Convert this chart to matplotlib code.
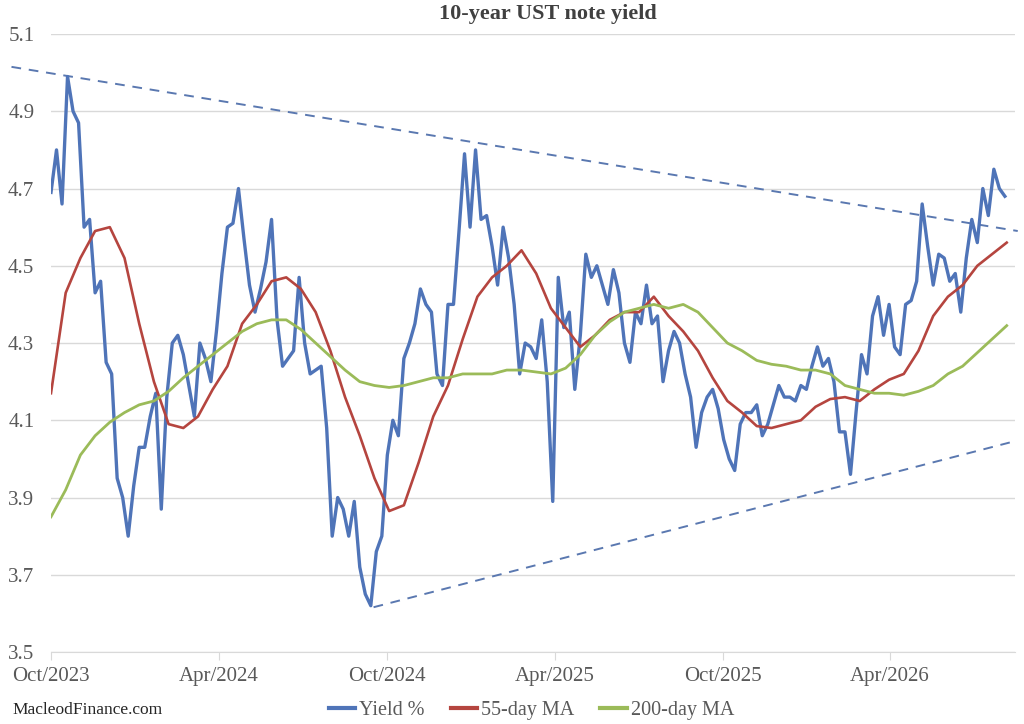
import numpy as np
import pandas as pd
import matplotlib
matplotlib.use("Agg")
import matplotlib.pyplot as plt
import matplotlib.dates as mdates

plt.rcParams['font.family'] = ['Liberation Serif', 'DejaVu Serif']

# yield sampled every 6 days from 1 Oct 2023
yield_pct = [
    4.69, 4.80, 4.66, 4.99, 4.90, 4.87, 4.60, 4.62, 4.43, 4.46,
    4.25, 4.22, 3.95, 3.90, 3.80, 3.93, 4.03, 4.03, 4.11, 4.17,
    3.87, 4.16, 4.30, 4.32, 4.27, 4.19, 4.11, 4.30, 4.26, 4.20,
    4.33, 4.48, 4.60, 4.61, 4.70, 4.57, 4.45, 4.38, 4.44, 4.51,
    4.62, 4.36, 4.24, 4.26, 4.28, 4.47, 4.30, 4.22, 4.23, 4.24,
    4.08, 3.80, 3.90, 3.87, 3.80, 3.89, 3.72, 3.65, 3.62, 3.76,
    3.80, 4.01, 4.10, 4.06, 4.26, 4.30, 4.35, 4.44, 4.40, 4.38,
    4.22, 4.19, 4.40, 4.40, 4.59, 4.79, 4.60, 4.80, 4.62, 4.63,
    4.55, 4.45, 4.60, 4.52, 4.40, 4.22, 4.30, 4.29, 4.26, 4.36,
    4.20, 3.89, 4.47, 4.34, 4.38, 4.18, 4.32, 4.53, 4.47, 4.50,
    4.45, 4.40, 4.49, 4.43, 4.30, 4.25, 4.38, 4.35, 4.45, 4.35,
    4.37, 4.20, 4.28, 4.33, 4.30, 4.22, 4.16, 4.03, 4.12, 4.16,
    4.18, 4.13, 4.05, 4.00, 3.97, 4.09, 4.12, 4.12, 4.14, 4.06,
    4.09, 4.14, 4.19, 4.16, 4.16, 4.15, 4.19, 4.18, 4.24, 4.29,
    4.24, 4.26, 4.20, 4.07, 4.07, 3.96, 4.12, 4.27, 4.22, 4.37,
    4.42, 4.32, 4.40, 4.29, 4.27, 4.40, 4.41, 4.46, 4.66, 4.55,
    4.45, 4.53, 4.52, 4.46, 4.48, 4.38, 4.52, 4.62, 4.56, 4.70,
    4.63, 4.75, 4.70, 4.68,
]

# moving averages sampled every 16 days
ma55 = [
    4.17, 4.43, 4.52, 4.59, 4.60, 4.52, 4.35, 4.20, 4.09, 4.08,
    4.11, 4.18, 4.24, 4.35, 4.40, 4.46, 4.47, 4.44, 4.38, 4.28,
    4.16, 4.06, 3.95, 3.865, 3.88, 3.99, 4.11, 4.19, 4.31, 4.42,
    4.47, 4.50, 4.54, 4.48, 4.39, 4.34, 4.29, 4.32, 4.36, 4.38,
    4.38, 4.42, 4.37, 4.33, 4.28, 4.21, 4.15, 4.12, 4.085, 4.08,
    4.09, 4.10, 4.135, 4.155, 4.16, 4.15, 4.18, 4.205, 4.22, 4.28,
    4.37, 4.42, 4.45, 4.50, 4.53, 4.56,
]
ma200 = [
    3.85, 3.92, 4.01, 4.06, 4.095, 4.12, 4.14, 4.15, 4.175, 4.21,
    4.24, 4.27, 4.30, 4.33, 4.35, 4.36, 4.36, 4.335, 4.30, 4.265,
    4.23, 4.20, 4.19, 4.185, 4.19, 4.20, 4.21, 4.21, 4.22, 4.22,
    4.22, 4.23, 4.23, 4.225, 4.22, 4.235, 4.27, 4.32, 4.355, 4.38,
    4.39, 4.40, 4.39, 4.40, 4.38, 4.34, 4.30, 4.28, 4.255, 4.245,
    4.24, 4.23, 4.23, 4.22, 4.19, 4.18, 4.17, 4.17, 4.165, 4.175,
    4.19, 4.22, 4.24, 4.275, 4.31, 4.345,
]

# hand-drawn trend lines (start/end date, value)
upper_trend_dates = ['2023-08-19', '2026-08-18']
upper_trend_vals = [5.015, 4.59]
lower_trend_dates = ['2024-09-16', '2026-08-15']
lower_trend_vals = [3.616, 4.046]

start = pd.Timestamp('2023-10-01')
yield_dates = pd.date_range(start, periods=len(yield_pct), freq='6D')
ma_dates = pd.date_range(start, periods=len(ma55), freq='16D')

blue = '#4F74B8'
red = '#B5453F'
green = '#9BBB59'
grey = '#595959'

fig = plt.figure(figsize=(10.24, 7.24), dpi=100)
ax = fig.add_axes([0.0498, 0.0994, 0.9414, 0.8536])

ax.plot(yield_dates, yield_pct, color=blue, lw=2.4, label='Yield %', zorder=3)
ax.plot(ma_dates, ma55, color=red, lw=1.9, label='55-day MA', zorder=4)
ax.plot(ma_dates, ma200, color=green, lw=2.0, label='200-day MA', zorder=4)

ax.plot(pd.to_datetime(upper_trend_dates), upper_trend_vals, color='#5A78B0',
        lw=1.4, ls=(0, (5, 4)), clip_on=False, zorder=2)
ax.plot(pd.to_datetime(lower_trend_dates), lower_trend_vals, color='#5A78B0',
        lw=1.4, ls=(0, (5, 4)), clip_on=False, zorder=2)

ax.set_ylim(3.5, 5.1)
ax.set_yticks(np.arange(3.5, 5.11, 0.2))
ax.yaxis.set_major_formatter(matplotlib.ticker.FormatStrFormatter('%.1f'))
ax.set_xlim(start, pd.Timestamp('2026-08-15'))
ax.xaxis.set_major_locator(mdates.MonthLocator(bymonth=[4, 10], bymonthday=1))
ax.xaxis.set_major_formatter(mdates.DateFormatter('%b/%Y'))

ax.grid(axis='y', color='#D9D9D9', lw=1.0)
ax.set_axisbelow(True)
for s in ['top', 'right', 'left']:
    ax.spines[s].set_visible(False)
ax.spines['bottom'].set_color('#D9D9D9')
ax.tick_params(axis='y', length=0, labelsize=15, labelcolor=grey, pad=12)
ax.tick_params(axis='x', length=6, color='#D9D9D9', labelsize=15, labelcolor=grey, pad=5)

fig.text(0.535, 0.98, '10-year UST note yield', ha='center', va='center',
         fontsize=16, fontweight='bold', color='#404040')
fig.text(0.012, 0.019, 'MacleodFinance.com', ha='left', va='center',
         fontsize=12.5, color='#262626')

leg = fig.legend(loc='center', bbox_to_anchor=(0.519, 0.019), ncol=3, frameon=False,
                 fontsize=14.5, handlelength=1.3, columnspacing=1.3, handletextpad=0.2,
                 labelcolor=grey)
for h in leg.get_lines():
    h.set_linewidth(3.0)

fig.savefig('out.png', dpi=100)
